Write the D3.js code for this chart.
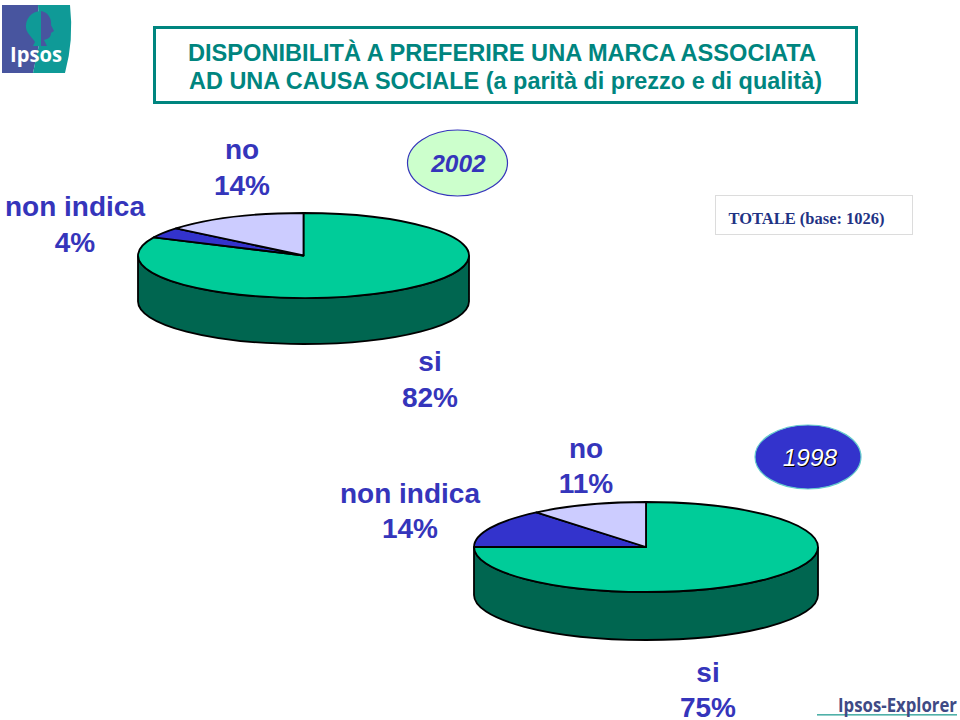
<!DOCTYPE html>
<html><head><meta charset="utf-8">
<script src="https://cdn.jsdelivr.net/npm/d3@7"></script>
<style>html,body{margin:0;background:#fff}svg{display:block}text{font-family:"Liberation Sans",Arial,sans-serif}</style>
</head><body><svg id="c" width="960" height="720"></svg>
<script>
const categories = ["si", "non indica", "no"];
const values2002 = [82, 4, 14];
const values1998 = [75, 14, 11];
const titleLines = ["DISPONIBILITÀ A PREFERIRE UNA MARCA ASSOCIATA", "AD UNA CAUSA SOCIALE (a parità di prezzo e di qualità)"];
const sliceColors = ["#00cc99", "#3333cc", "#ccccff"];
const wallColor = "#006650";
const blue = "#3535bb", teal = "#00857f";

const svg = d3.select("#c");
const pie = d3.pie().sort(null).value(d => d);

function drawPie(values, cx, cy, rx, ry, depth) {
  const g = svg.append("g");
  const wall = `M${cx-rx},${cy} L${cx-rx},${cy+depth} A${rx},${ry} 0 0 0 ${cx+rx},${cy+depth} L${cx+rx},${cy} A${rx},${ry} 0 0 1 ${cx-rx},${cy} Z`;
  g.append("path").attr("d", wall).attr("fill", wallColor).attr("stroke", "#000").attr("stroke-width", 1.8);
  const arc = d3.arc().innerRadius(0).outerRadius(rx);
  g.append("g").attr("transform", `translate(${cx},${cy}) scale(1,${ry/rx})`)
    .selectAll("path").data(pie(values)).join("path")
    .attr("d", arc).attr("fill", (d,i) => sliceColors[i])
    .attr("stroke", "#000").attr("stroke-width", 1.8).attr("vector-effect", "non-scaling-stroke")
    .attr("stroke-linejoin", "round");
}
drawPie(values2002, 303.5, 255.5, 165.5, 42.5, 46);
drawPie(values1998, 646, 547, 172, 45, 48);

function label(lines, x, y, lh) {
  lines.forEach((t,i) => svg.append("text").attr("x", x).attr("y", y + i*lh)
    .attr("text-anchor", "middle").attr("font-size", 28).attr("font-weight", "bold").attr("fill", blue).text(t));
}
label([categories[1], values2002[1] + "%"], 75, 216, 36);
label([categories[2], values2002[2] + "%"], 242, 159, 35.5);
label([categories[0], values2002[0] + "%"], 430, 371, 35.5);
label([categories[1], values1998[1] + "%"], 410, 503, 35);
label([categories[2], values1998[2] + "%"], 586, 458, 35);
label([categories[0], values1998[0] + "%"], 708, 682, 35);

// title
svg.append("rect").attr("x", 154.5).attr("y", 27.5).attr("width", 702).attr("height", 75)
  .attr("fill", "#fff").attr("stroke", teal).attr("stroke-width", 3);
svg.append("text").attr("x", 502).attr("y", 61).attr("text-anchor", "middle").attr("font-size", 23).attr("font-weight", "bold")
  .attr("textLength", 628).attr("lengthAdjust", "spacingAndGlyphs").attr("fill", teal).text(titleLines[0]);
svg.append("text").attr("x", 505.5).attr("y", 89).attr("text-anchor", "middle").attr("font-size", 23).attr("font-weight", "bold")
  .attr("textLength", 633).attr("lengthAdjust", "spacingAndGlyphs").attr("fill", teal).text(titleLines[1]);

// year badges
svg.append("ellipse").attr("cx", 457.5).attr("cy", 163).attr("rx", 50).attr("ry", 33)
  .attr("fill", "#ccffcc").attr("stroke", blue).attr("stroke-width", 1.2);
svg.append("text").attr("x", 458.5).attr("y", 172).attr("text-anchor", "middle").attr("font-size", 24.5)
  .attr("font-style", "italic").attr("font-weight", "bold").attr("fill", blue).text("2002");
svg.append("ellipse").attr("cx", 808).attr("cy", 457).attr("rx", 53).attr("ry", 32)
  .attr("fill", "#3333cc").attr("stroke", "#66cccc").attr("stroke-width", 1.2);
svg.append("text").attr("x", 811).attr("y", 467).attr("text-anchor", "middle").attr("font-size", 24.5)
  .attr("font-style", "italic").attr("fill", "#000").text("1998");
svg.append("text").attr("x", 810).attr("y", 466).attr("text-anchor", "middle").attr("font-size", 24.5)
  .attr("font-style", "italic").attr("fill", "#fff").text("1998");

// base box
svg.append("rect").attr("x", 715.5).attr("y", 195.5).attr("width", 197).attr("height", 39)
  .attr("fill", "#fff").attr("stroke", "#dcdcdc").attr("stroke-width", 1);
svg.append("text").attr("x", 806.5).attr("y", 224).attr("text-anchor", "middle").attr("font-size", 16.5)
  .attr("font-weight", "bold").attr("fill", "#1f3384").style("font-family", "'Liberation Serif',serif").text("TOTALE (base: 1026)");

// Ipsos logo
svg.append("path").attr("d", "M2,5 L38,5 L40,40 L33,73 L2,73 Z").attr("fill", "#48559f");
svg.append("path").attr("d", "M38,5 L70,5 Q74,40 65,73 L33,73 L40,40 Z").attr("fill", "#0f9a97");
svg.append("path").attr("d", "M41,11 C31,11 25,20 26,28 C27,34 33,38 35,42 L33,46 L41,46 Z").attr("fill", "#0f9a97");
svg.append("path").attr("d", "M41,11 C48,12 52,19 51,25 L54,31 L51,33 C51,38 47,39 44,40 L47,46 L41,46 Z").attr("fill", "#48559f");
svg.append("text").attr("x", 10).attr("y", 62).attr("font-size", 22).attr("font-weight", "bold").attr("fill", "#fff")
  .style("font-family", "'Open Sans',sans-serif").attr("textLength", 52).attr("lengthAdjust", "spacingAndGlyphs").text("Ipsos");

// Ipsos-Explorer logo
svg.append("rect").attr("x", 817).attr("y", 714).attr("width", 140).attr("height", 1.6).attr("fill", "#4fb0a8");
svg.append("text").attr("x", 838).attr("y", 712).attr("font-size", 19.5).attr("font-weight", "bold").attr("fill", "#3f4a85")
  .style("font-family", "'Open Sans',sans-serif").attr("textLength", 119).attr("lengthAdjust", "spacingAndGlyphs").text("Ipsos-Explorer");
</script></body></html>
